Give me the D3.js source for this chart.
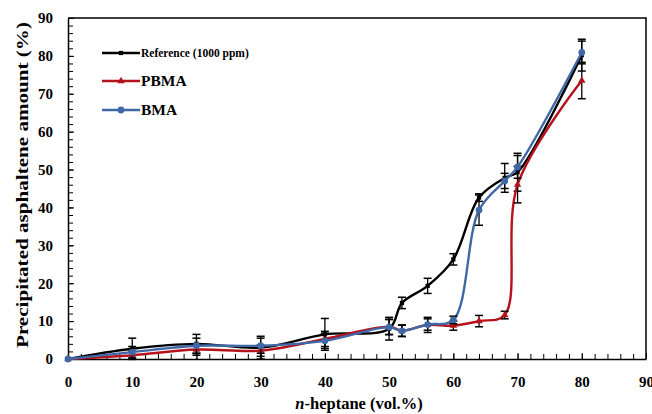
<!DOCTYPE html>
<html>
<head>
<meta charset="utf-8">
<script src="https://cdn.jsdelivr.net/npm/d3@7"></script>
<style>
  body { margin: 0; background: #fff; }
  text { font-family: "Liberation Serif", "Times New Roman", serif; font-weight: bold; }
</style>
</head>
<body>
<div id="chart"></div>
<script>
// n-heptane volume fractions
const heptane = [0, 10, 20, 30, 40, 50, 52, 56, 60, 64, 68, 70, 80];

// precipitated asphaltene (%) and error bars
const reference = [0, 2.7, 4, 3, 6.5, 8, 14.8, 19.3, 26.3, 42.6, 47.8, 49.3, 80.2];
const referenceErr = [0, 2.8, 2.5, 3, 4.2, 3, 1.5, 2, 1.5, 1, 3.8, 5, 4.2];
const pbma = [0, 1, 2.5, 2.2, 5.3, 8.5, 7.5, 9, 8.8, 10, 11.6, 46, 73.5];
const pbmaErr = [0, 1, 1.5, 1.5, 2, 2, 1.5, 2, 1.2, 1.5, 1, 4.8, 4.8];
const bma = [0, 1.8, 3.5, 3.5, 4.8, 8.4, 7.4, 9.1, 10.3, 39.3, 47, 50.7, 80.9];
const bmaErr = [0, 1.5, 2, 2, 2, 2, 1.5, 1.5, 1, 4, 2, 3, 3];

const seriesNames = ["Reference (1000 ppm)", "PBMA", "BMA"];

const width = 652, height = 414,
    margin = ({ top: 18, right: 6, bottom: 55, left: 68 });

const svg = d3.select("#chart")
    .append("svg")
    .attr("width", width)
    .attr("height", height);

let x = d3.scaleLinear()
    .domain([0, 90])
    .range([margin.left, width - margin.right]);

let y = d3.scaleLinear()
    .domain([0, 90])
    .range([height - margin.bottom, margin.top]);

// frame top and right
svg.append("path")
    .attr("d", `M${x(0)},${y(90)}H${x(90)}V${y(0)}`)
    .attr("fill", "none")
    .attr("stroke", "#000")
    .attr("stroke-width", 1.5);

// minor ticks
svg.append("g")
    .attr("transform", `translate(0,${y(0)})`)
    .call(d3.axisBottom(x).tickValues(d3.range(0, 91, 2)).tickSize(-5).tickFormat("").tickSizeOuter(0))
    .call(g => g.select(".domain").remove());
svg.append("g")
    .attr("transform", `translate(${x(0)},0)`)
    .call(d3.axisLeft(y).tickValues(d3.range(0, 91, 2)).tickSize(-5).tickFormat("").tickSizeOuter(0))
    .call(g => g.select(".domain").remove());

let xAxis = svg.append("g")
    .attr("transform", `translate(0,${y(0)})`)
    .call(d3.axisBottom(x)
        .tickValues(d3.range(0, 91, 10))
        .tickSize(-6)
        .tickSizeOuter(0)
        .tickPadding(17));

let yAxis = svg.append("g")
    .attr("transform", `translate(${x(0)},0)`)
    .call(d3.axisLeft(y)
        .tickValues(d3.range(0, 91, 10))
        .tickSize(-6)
        .tickSizeOuter(0)
        .tickPadding(15));

for (let g of [xAxis, yAxis]) {
    g.select(".domain").attr("stroke-width", 1.5);
    g.selectAll("text")
        .attr("font-size", 15)
        .attr("font-family", "Liberation Serif")
        .attr("font-weight", "bold")
        .attr("fill", "#000");
}

svg.append("text")
    .attr("text-anchor", "middle")
    .attr("x", -185)
    .attr("y", 28)
    .attr("transform", "rotate(-90)")
    .attr("font-size", 17)
    .attr("textLength", 326)
    .attr("lengthAdjust", "spacingAndGlyphs")
    .text("Precipitated asphaltene amount (%)");

let xl = svg.append("text")
    .attr("text-anchor", "middle")
    .attr("x", 359)
    .attr("y", 409)
    .attr("font-size", 16.5);
xl.append("tspan").attr("font-style", "italic").text("n");
xl.append("tspan").text("-heptane (vol.%)");

const series = [
    { name: seriesNames[0], values: reference, err: referenceErr, color: "#000000", marker: d3.symbolSquare, size: 18 },
    { name: seriesNames[1], values: pbma, err: pbmaErr, color: "#b5121b", marker: d3.symbolTriangle, size: 24 },
    { name: seriesNames[2], values: bma, err: bmaErr, color: "#4068a6", marker: d3.symbolCircle, size: 36 }
];

let line = d3.line()
    .x((d, i) => x(heptane[i]))
    .y(d => y(d))
    .curve(d3.curveCatmullRom.alpha(0.5));

for (let s of series) {
    let g = svg.append("g");

    g.append("path")
        .datum(s.values)
        .attr("fill", "none")
        .attr("stroke", s.color)
        .attr("stroke-width", 2.4)
        .attr("d", line);

    // error bars
    let eb = g.selectAll(".err")
        .data(s.values.map((v, i) => ({ x: heptane[i], v: v, e: s.err[i] })).filter(d => d.e > 0))
        .join("g");
    eb.append("line")
        .attr("x1", d => x(d.x)).attr("x2", d => x(d.x))
        .attr("y1", d => y(d.v - d.e)).attr("y2", d => y(d.v + d.e))
        .attr("stroke", "#000").attr("stroke-width", 1.3);
    for (let sign of [-1, 1]) {
        eb.append("line")
            .attr("x1", d => x(d.x) - 4).attr("x2", d => x(d.x) + 4)
            .attr("y1", d => y(d.v + sign * d.e)).attr("y2", d => y(d.v + sign * d.e))
            .attr("stroke", "#000").attr("stroke-width", 1.5);
    }

    g.selectAll(".mk")
        .data(s.values)
        .join("path")
        .attr("transform", (d, i) => `translate(${x(heptane[i])},${y(d)})`)
        .attr("d", d3.symbol().type(s.marker).size(s.size))
        .attr("fill", s.color);
}

// legend
const legendY = [53, 81, 110];
const legendSize = [11.5, 15.5, 15.5];
series.forEach((s, i) => {
    let g = svg.append("g").attr("transform", `translate(102,${legendY[i]})`);
    g.append("line")
        .attr("x1", 0).attr("x2", 38)
        .attr("stroke", s.color).attr("stroke-width", 2.4);
    g.append("path")
        .attr("transform", "translate(19,0)")
        .attr("d", d3.symbol().type(s.marker).size(s.size))
        .attr("fill", s.color);
    g.append("text")
        .attr("x", 39)
        .attr("dy", "0.35em")
        .attr("font-size", legendSize[i])
        .text(s.name);
});
</script>
</body>
</html>
